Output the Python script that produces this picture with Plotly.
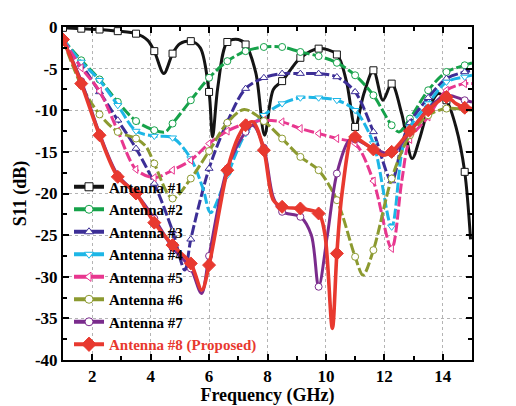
import numpy as np
import plotly.graph_objects as go

# ---------------- data ----------------
names = ["Antenna #1", "Antenna #2", "Antenna #3", "Antenna #4",
         "Antenna #5", "Antenna #6", "Antenna #7", "Antenna #8 (Proposed)"]

# frequencies (GHz) where the curve markers sit
mark_f = [1.0, 1.625, 2.25, 2.875, 3.5, 4.125, 4.75, 5.375, 6.0, 6.625, 7.25,
          7.875, 8.5, 9.125, 9.75, 10.375, 11.0, 11.625, 12.25, 12.875, 13.5,
          14.125, 14.75]

a1_f = [1.0, 1.625, 2.25, 2.875, 3.5, 3.9, 4.125, 4.45, 4.75, 5.0, 5.375, 5.7, 6.0,
        6.12, 6.3, 6.625, 7.0, 7.25, 7.6, 7.9, 8.2, 8.5, 9.125, 9.75, 10.375, 10.7,
        11.0, 11.3, 11.625, 11.95, 12.25, 12.6, 12.95, 13.2, 13.5, 13.85, 14.125,
        14.45, 14.75, 14.95]
a1_s = [-0.1, -0.2, -0.3, -0.5, -0.8, -1.6, -2.9, -5.6, -3.2, -2.0, -1.7, -2.5, -7.8,
        -13.2, -7.2, -1.8, -1.5, -2.1, -5.5, -13.0, -7.5, -6.5, -3.7, -2.6, -3.3, -6.5,
        -12.0, -8.0, -5.2, -8.8, -6.8, -10.5, -15.8, -13.5, -10.0, -8.0, -8.8,
        -12.0, -17.4, -25.5]

a2_f = [1.0, 1.625, 2.25, 2.875, 3.5, 4.125, 4.5, 4.75, 5.375, 6.0, 6.625, 7.25,
        7.875, 8.5, 9.125, 9.75, 10.375, 11.0, 11.625, 12.25, 12.5, 12.875, 13.5,
        14.125, 14.75, 15.0]
a2_s = [-1.5, -4.0, -6.3, -9.0, -11.3, -12.4, -12.6, -11.6, -8.8, -6.1, -4.1, -2.9,
        -2.4, -2.4, -3.0, -3.5, -4.3, -5.8, -8.2, -11.8, -12.6, -11.0, -7.6,
        -5.4, -4.6, -4.3]

a3_f = [1.0, 1.625, 2.25, 2.875, 3.5, 4.125, 4.75, 5.17, 5.375, 6.0, 6.625, 7.25,
        7.875, 8.5, 9.125, 9.75, 10.375, 11.0, 11.625, 12.25, 12.6, 12.875, 13.5,
        14.125, 14.75, 15.0]
a3_s = [-1.5, -4.5, -7.8, -11.2, -14.6, -18.8, -24.5, -29.2, -25.5, -17.0, -11.4,
        -7.4, -6.1, -5.6, -5.6, -5.6, -6.0, -7.8, -12.6, -18.5, -14.0, -11.5, -8.5,
        -6.2, -5.4, -5.2]

a4_f = [1.0, 1.625, 2.25, 2.875, 3.5, 4.125, 4.75, 5.375, 5.8, 6.05, 6.625, 7.25,
        7.875, 8.5, 9.125, 9.75, 10.375, 11.0, 11.625, 12.25, 12.6, 12.875, 13.5,
        14.125, 14.75, 15.0]
a4_s = [-1.5, -4.2, -6.4, -9.4, -12.5, -13.1, -13.3, -15.8, -19.5, -22.3, -17.8,
        -12.8, -10.6, -9.2, -8.5, -8.5, -8.8, -10.0, -14.0, -24.0, -15.0, -12.0,
        -9.2, -6.6, -6.0, -5.8]

a5_f = [1.0, 1.625, 2.25, 2.875, 3.5, 4.125, 4.75, 5.375, 6.0, 6.625, 7.25, 7.875,
        8.5, 9.125, 9.75, 10.375, 11.0, 11.625, 12.25, 12.6, 12.875, 13.5, 14.125,
        14.75, 15.0]
a5_s = [-1.5, -4.9, -7.7, -12.5, -17.1, -18.1, -17.2, -16.0, -14.0, -12.5, -11.6,
        -11.2, -11.4, -12.2, -12.8, -13.4, -14.0, -18.5, -26.6, -18.4, -13.5, -10.8,
        -7.6, -6.8, -6.8]

a6_f = [1.0, 1.625, 2.25, 2.875, 3.5, 3.85, 4.125, 4.75, 5.375, 6.0, 6.625, 7.2,
        7.875, 8.5, 9.125, 9.75, 10.375, 11.0, 11.27, 11.625, 12.25, 12.875, 13.5,
        14.125, 14.75, 15.0]
a6_s = [-1.5, -7.0, -10.5, -12.6, -13.4, -14.4, -16.4, -20.6, -18.2, -14.9, -11.5,
        -9.9, -11.3, -13.4, -15.6, -17.2, -20.8, -27.6, -29.8, -26.8, -18.2, -13.0,
        -10.6, -9.8, -9.9, -10.0]

a7_f = [1.0, 1.625, 2.25, 2.875, 3.5, 4.125, 4.75, 5.375, 5.74, 6.0, 6.625, 7.25,
        7.5, 7.875, 8.2, 8.5, 9.125, 9.5, 9.75, 10.05, 10.375, 10.8, 11.0, 11.625,
        12.25, 12.875, 13.5, 14.125, 14.75, 15.0]
a7_s = [-1.5, -6.5, -12.8, -17.8, -20.0, -23.0, -26.5, -29.0, -32.0, -27.5, -17.0,
        -12.6, -11.8, -14.5, -20.5, -22.2, -22.8, -25.0, -31.2, -25.0, -17.6, -13.6,
        -13.5, -14.6, -15.2, -12.6, -9.8, -8.2, -8.8, -9.0]

a8_f = [1.0, 1.625, 2.25, 2.875, 3.5, 4.125, 4.75, 5.375, 5.75, 6.0, 6.625, 7.0,
        7.25, 7.5, 7.875, 8.2, 8.5, 9.125, 9.75, 9.96, 10.22, 10.375, 10.55, 10.9,
        11.0, 11.625, 11.95, 12.25, 12.875, 13.5, 14.125, 14.45, 14.75, 15.0]
a8_s = [-1.5, -6.8, -13.0, -18.0, -20.0, -23.5, -26.2, -28.4, -31.6, -28.6, -17.2,
        -13.2, -11.8, -11.4, -14.8, -20.8, -21.6, -21.8, -22.4, -24.8, -36.2, -27.2,
        -20.0, -13.0, -13.2, -14.7, -15.4, -15.0, -12.5, -10.0, -8.4, -9.2, -9.7, -9.8]

freqs = [a1_f, a2_f, a3_f, a4_f, a5_f, a6_f, a7_f, a8_f]
s11s = [a1_s, a2_s, a3_s, a4_s, a5_s, a6_s, a7_s, a8_s]

x_ticks = [2, 4, 6, 8, 10, 12, 14]
y_ticks = [0, -5, -10, -15, -20, -25, -30, -35, -40]
y_tick_text = ["0", "-5", "-10", "-15", "-20", "-25", "-30", "-35", "-40"]

# ---------------- styles ----------------
colors = ["#141414", "#16a24a", "#3c2e96", "#1db6e6", "#e8378f", "#8c9a30",
          "#7a2b8c", "#e8392f"]
symbols = ["square", "circle", "triangle-up", "triangle-down", "triangle-left",
           "circle", "circle", "diamond"]
dashes = ["solid", "10px,3px", "10px,3px", "10px,3px", "10px,3px", "10px,3px",
          "solid", "solid"]
FONT = "Liberation Serif"

fig = go.Figure()

for i in range(8):
    f = np.array(freqs[i])
    s = np.array(s11s[i])
    c = colors[i]
    lw = 3.6 if i == 7 else 3.0
    fig.add_trace(go.Scatter(
        x=f, y=s, mode="lines",
        line=dict(color=c, width=lw, dash=dashes[i], shape="spline", smoothing=0.9),
        showlegend=False, hoverinfo="skip"))
    sel = np.array([np.any(np.isclose(v, mark_f)) for v in f])
    if i == 7:
        mk = dict(symbol="diamond", size=10, color=c, line=dict(color=c, width=1))
    else:
        mk = dict(symbol=symbols[i], size=7, color="white", line=dict(color=c, width=1))
    fig.add_trace(go.Scatter(
        x=f[sel], y=s[sel], mode="markers", marker=mk,
        showlegend=False, hoverinfo="skip"))

# legend entries
for i in range(8):
    c = colors[i]
    if i == 7:
        mk = dict(symbol="diamond", size=11, color=c, line=dict(color=c, width=1))
        nm = "<span style='color:%s'>%s</span>" % (c, names[i])
    else:
        mk = dict(symbol=symbols[i], size=8, color="white", line=dict(color=c, width=1))
        nm = names[i]
    fig.add_trace(go.Scatter(
        x=[None], y=[None], mode="lines+markers", name=nm,
        line=dict(color=c, width=4), marker=mk))

grid = dict(showgrid=True, gridcolor="#b4b4b4", griddash="dot", gridwidth=1)

fig.update_layout(
    width=516, height=406, autosize=False,
    margin=dict(l=63, r=44, t=27, b=46),
    paper_bgcolor="white", plot_bgcolor="white",
    font=dict(family=FONT, size=17, color="black", weight="bold"),
    showlegend=True,
    legend=dict(x=0.0147, y=0.569, xanchor="left", yanchor="top",
                bgcolor="rgba(0,0,0,0)", borderwidth=0,
                font=dict(family=FONT, size=15, color="black", weight="bold"),
                tracegroupgap=0, itemwidth=30),
    xaxis=dict(
        range=[1, 15], tickvals=x_ticks, ticktext=[str(v) for v in x_ticks],
        ticks="inside", ticklen=6, tickwidth=2, tickcolor="black",
        showline=True, linecolor="black", linewidth=2, mirror="ticks",
        zeroline=False, automargin=False, **grid,
        minor=dict(dtick=1, tick0=1, ticks="inside", ticklen=4, tickwidth=2,
                   tickcolor="black", showgrid=False),
        title=dict(text="Frequency (GHz)",
                   font=dict(family=FONT, size=18, weight="bold"), standoff=3),
        tickfont=dict(family=FONT, size=17, weight="bold"),
    ),
    yaxis=dict(
        range=[-40, 0], tickvals=y_ticks, ticktext=y_tick_text,
        ticks="inside", ticklen=6, tickwidth=2, tickcolor="black",
        showline=True, linecolor="black", linewidth=2, mirror="ticks",
        zeroline=False, automargin=False, **grid,
        minor=dict(dtick=2.5, tick0=0, ticks="inside", ticklen=4, tickwidth=2,
                   tickcolor="black", showgrid=False),
        title=dict(text="S11 (dB)", font=dict(family=FONT, size=18, weight="bold"),
                   standoff=4),
        tickfont=dict(family=FONT, size=17, weight="bold"),
    ),
)

fig.write_html("out.html")
